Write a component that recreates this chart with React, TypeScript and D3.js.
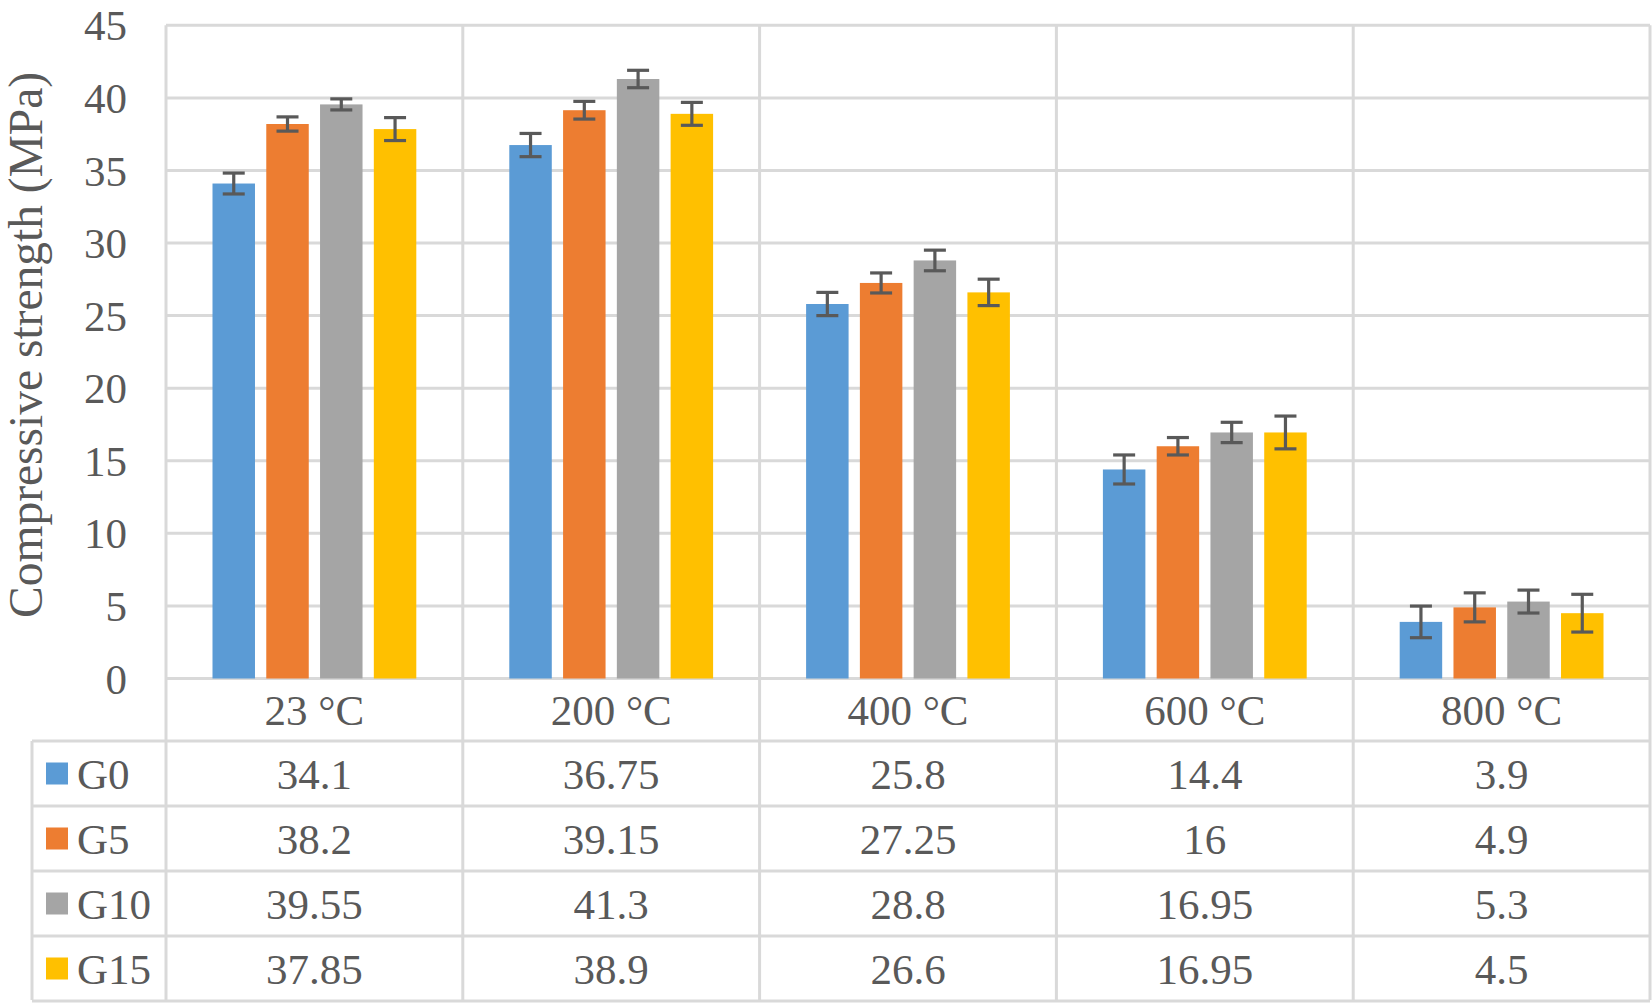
import React from "react";
import * as d3 from "d3";

const categories = ["23 °C", "200 °C", "400 °C", "600 °C", "800 °C"];
const seriesNames = ["G0", "G5", "G10", "G15"];
const seriesColors = ["#5B9BD5", "#ED7D31", "#A5A5A5", "#FFC000"];
const G0 = [34.1, 36.75, 25.8, 14.4, 3.9];
const G5 = [38.2, 39.15, 27.25, 16, 4.9];
const G10 = [39.55, 41.3, 28.8, 16.95, 5.3];
const G15 = [37.85, 38.9, 26.6, 16.95, 4.5];
const labelsG0 = ["34.1", "36.75", "25.8", "14.4", "3.9"];
const labelsG5 = ["38.2", "39.15", "27.25", "16", "4.9"];
const labelsG10 = ["39.55", "41.3", "28.8", "16.95", "5.3"];
const labelsG15 = ["37.85", "38.9", "26.6", "16.95", "4.5"];
const errG0 = [0.72, 0.8, 0.8, 1.0, 1.09];
const errG5 = [0.49, 0.61, 0.69, 0.6, 1.0];
const errG10 = [0.38, 0.6, 0.71, 0.7, 0.79];
const errG15 = [0.79, 0.79, 0.91, 1.13, 1.3];
const yTicks = [0, 5, 10, 15, 20, 25, 30, 35, 40, 45];
const yTitle = "Compressive strength (MPa)";

const values = [G0, G5, G10, G15];
const labels = [labelsG0, labelsG5, labelsG10, labelsG15];
const errs = [errG0, errG5, errG10, errG15];

export default function App() {
  const W = 1652, H = 1003;
  const plotL = 166, plotR = 1650, plotT = 25.3, plotB = 678.5;
  const catRowB = 741;
  const rowH = 65;
  const tableL = 32;
  const tableB = catRowB + rowH * 4 - 1;
  const grid = "#D9D9D9";
  const txt = "#595959";
  const font = '"Liberation Serif", Tinos, "Times New Roman", Times, "DejaVu Serif", serif';
  const fs = 43;

  const x = d3.scaleBand<string>().domain(categories).range([plotL, plotR]).padding(0);
  const cw = x.bandwidth();
  const outer = 46.5;
  const xs = d3
    .scaleBand<string>()
    .domain(seriesNames)
    .range([outer, cw - outer])
    .paddingInner(0.21)
    .paddingOuter(0);
  const y = d3.scaleLinear().domain([0, 45]).range([plotB, plotT]);
  const bw = xs.bandwidth();
  const capW = 22;
  const ts = { fontFamily: font };

  return (
    <svg width={W} height={H} style={{ position: "absolute", left: 0, top: 0, background: "#fff", fontFamily: font }}>
      <rect x={0} y={0} width={W} height={H} fill="#fff" />
      {yTicks.map((t) => (
        <line key={"g" + t} x1={plotL} x2={plotR} y1={y(t)} y2={y(t)} stroke={grid} strokeWidth={3} />
      ))}
      {[0, 1, 2, 3, 4].map((i) => (
        <line key={"tr" + i} x1={tableL} x2={plotR} y1={catRowB + i * rowH} y2={catRowB + i * rowH} stroke={grid} strokeWidth={3} />
      ))}
      {categories.map((c) => (
        <line key={"v" + c} x1={x(c)!} x2={x(c)!} y1={plotT} y2={tableB} stroke={grid} strokeWidth={3} />
      ))}
      <line x1={plotR} x2={plotR} y1={plotT} y2={tableB} stroke={grid} strokeWidth={3} />
      <line x1={tableL} x2={tableL} y1={catRowB} y2={tableB} stroke={grid} strokeWidth={3} />

      {values.map((vals, si) =>
        vals.map((v, ci) => {
          const bx = x(categories[ci])! + xs(seriesNames[si])!;
          return (
            <rect key={"b" + si + "-" + ci} x={bx} y={y(v)} width={bw} height={plotB - y(v)} fill={seriesColors[si]} />
          );
        })
      )}
      {values.map((vals, si) =>
        vals.map((v, ci) => {
          const cx = x(categories[ci])! + xs(seriesNames[si])! + bw / 2;
          const e = errs[si][ci];
          const y1 = y(v + e), y2 = y(v - e);
          return (
            <g key={"e" + si + "-" + ci} stroke="#595959" strokeWidth={3.2}>
              <line x1={cx} x2={cx} y1={y1} y2={y2} />
              <line x1={cx - capW / 2} x2={cx + capW / 2} y1={y1} y2={y1} />
              <line x1={cx - capW / 2} x2={cx + capW / 2} y1={y2} y2={y2} />
            </g>
          );
        })
      )}

      {yTicks.map((t) => (
        <text key={"t" + t} x={127} y={y(t)} dy="0.35em" textAnchor="end" fontSize={fs} fill={txt} style={ts}>
          {t}
        </text>
      ))}
      <text
        transform={`translate(${42},${(plotT + plotB) / 2 - 7}) rotate(-90)`}
        textAnchor="middle"
        fontSize={47.5}
        fill={txt}
        style={ts}
      >
        {yTitle}
      </text>

      {categories.map((c) => (
        <text key={"c" + c} x={x(c)! + cw / 2} y={(plotB + catRowB) / 2} dy="0.35em" textAnchor="middle" fontSize={fs} fill={txt} style={ts}>
          {c}
        </text>
      ))}

      {seriesNames.map((s, si) => {
        const cy = catRowB + si * rowH + rowH / 2;
        return (
          <g key={"r" + s}>
            <rect x={46} y={cy - 11} width={22} height={22} fill={seriesColors[si]} />
            <text x={77} y={cy} dy="0.35em" fontSize={fs} fill={txt} style={ts}>
              {s}
            </text>
            {labels[si].map((l, ci) => (
              <text key={"l" + ci} x={x(categories[ci])! + cw / 2} y={cy} dy="0.35em" textAnchor="middle" fontSize={fs} fill={txt} style={ts}>
                {l}
              </text>
            ))}
          </g>
        );
      })}
    </svg>
  );
}
